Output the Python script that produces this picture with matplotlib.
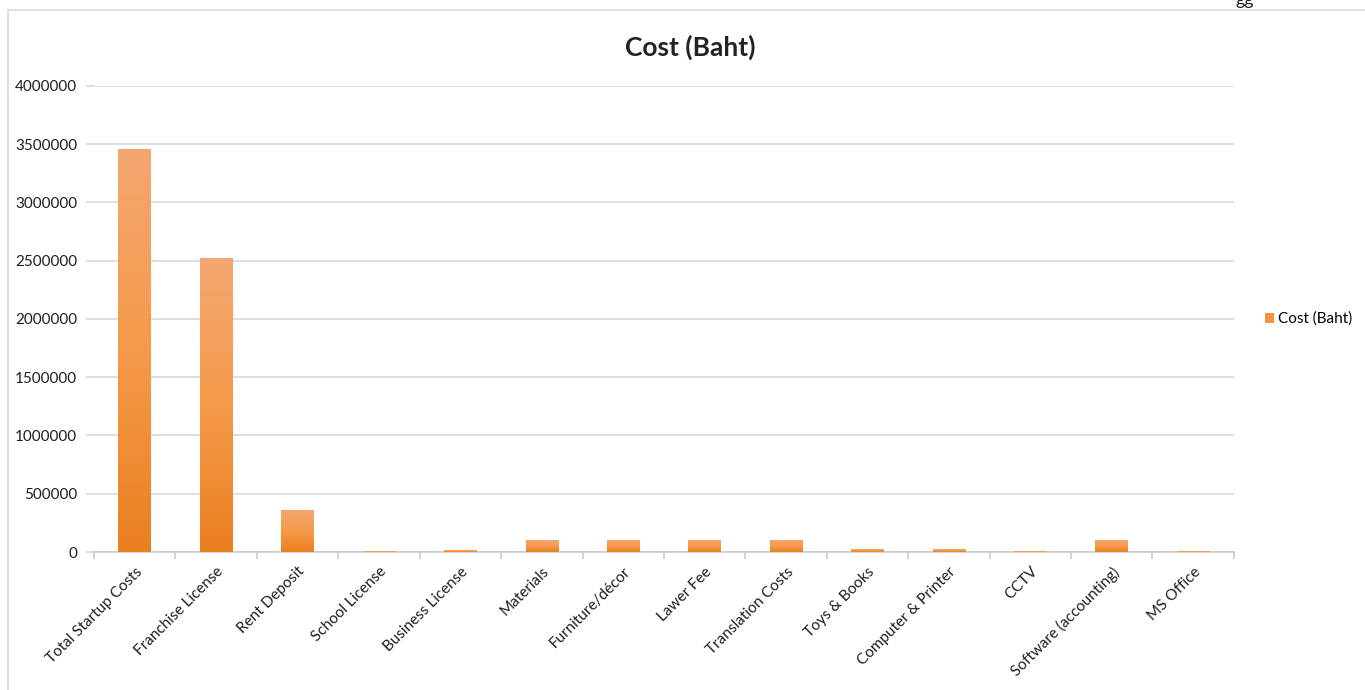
import numpy as np
import matplotlib.pyplot as plt
from matplotlib.patches import Patch, Rectangle
from matplotlib.colors import LinearSegmentedColormap

plt.rcParams['font.family'] = ['Lato', 'DejaVu Sans']

categories = ['Total Startup Costs', 'Franchise License', 'Rent Deposit', 'School License',
              'Business License', 'Materials', 'Furniture/décor', 'Lawer Fee',
              'Translation Costs', 'Toys & Books', 'Computer & Printer', 'CCTV',
              'Software (accounting)', 'MS Office']
costs = [3453000, 2520000, 360000, 2000, 15000, 100000, 100000, 100000,
         100000, 20000, 25000, 8000, 100000, 3000]
yticks = np.arange(0, 4000001, 500000)

fig = plt.figure(figsize=(13.65, 6.9), dpi=100)
ax = fig.add_axes([0.0689, 0.2, 0.835, 0.6754])

# outer chart frame (top and left edges only are visible)
fig.add_artist(Rectangle((8 / 1365, -0.1), 1.2, 1 - 10 / 690 + 0.1, transform=fig.transFigure,
                         fill=False, edgecolor='#d8d8d8', lw=1.2))
fig.text(0.912, 1.0, 'gg', fontsize=13, ha='center', va='center', color='#222222')

x = np.arange(len(categories))
bars = ax.bar(x, costs, width=0.4, color='none', zorder=3)

# each bar gets its own vertical gradient, light at the top
grad_cmap = LinearSegmentedColormap.from_list('orange_grad', ['#ea7f20', '#f59a4a', '#f4a771'])
grad = np.linspace(0, 1, 256).reshape(-1, 1)
for b in bars:
    bx, bw, bh = b.get_x(), b.get_width(), b.get_height()
    ax.imshow(grad, cmap=grad_cmap, origin='lower', aspect='auto',
              extent=[bx, bx + bw, 0, bh], zorder=3)

ax.set_xlim(-0.5, len(categories) - 0.5)
ax.set_ylim(0, 4000000)
ax.set_aspect('auto')

ax.set_yticks(yticks)
ax.set_yticklabels([str(v) for v in yticks], fontsize=11, color='#1e1e1e')
ax.yaxis.grid(True, color='#d6d6d6', lw=1.1, zorder=0)
ax.tick_params(axis='y', length=6, color='#d6d6d6', width=1.1, pad=6)

ax.set_xticks(x)
ax.set_xticklabels(categories, rotation=45, ha='right', rotation_mode='anchor',
                   fontsize=11, color='#1e1e1e')
ax.set_xticks(np.arange(-0.5, len(categories)), minor=True)
ax.tick_params(axis='x', which='major', length=0, pad=9)
ax.tick_params(axis='x', which='minor', length=5, color='#c8c8c8', width=1.1)

for side in ['top', 'right', 'left']:
    ax.spines[side].set_visible(False)
ax.spines['bottom'].set_color('#c8c8c8')
ax.spines['bottom'].set_linewidth(1.1)

fig.text(0.5055, 1 - 47 / 690, 'Cost (Baht)', fontsize=19, fontweight='bold',
         color='#222222', ha='center', va='center')

ax.legend(handles=[Patch(facecolor='#f39240', label='Cost (Baht)')],
          loc='center left', bbox_to_anchor=(1.015, 0.5), frameon=False,
          fontsize=11, handlelength=0.6, handleheight=0.6, handletextpad=0.3)

fig.savefig('out.png', dpi=100)
